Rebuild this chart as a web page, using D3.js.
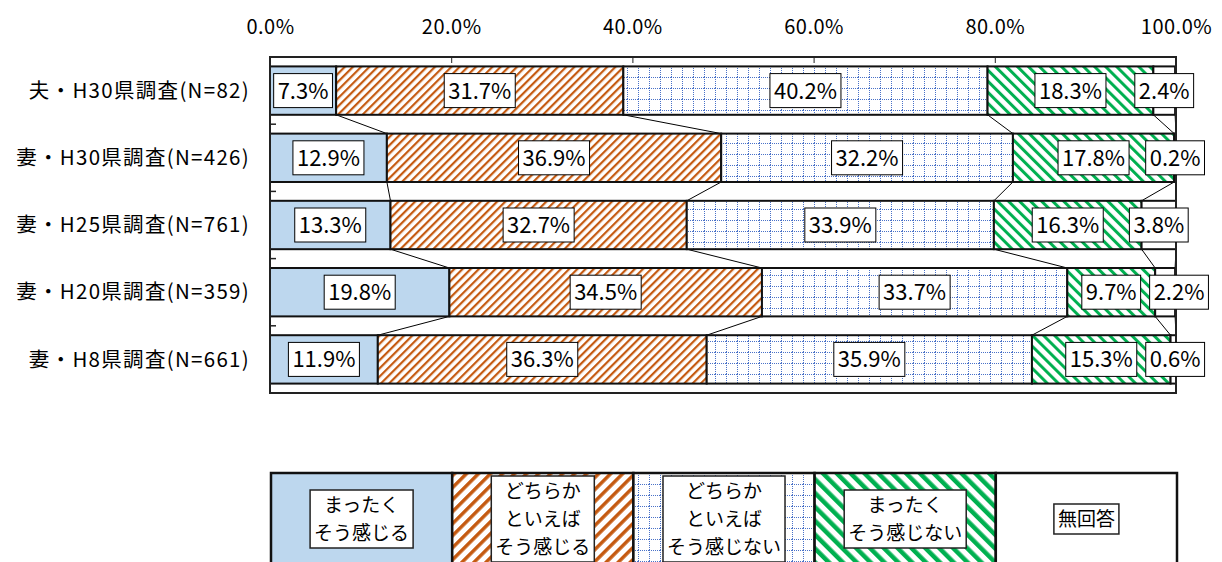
<!DOCTYPE html>
<html>
<head>
<meta charset="utf-8">
<script src="https://cdn.jsdelivr.net/npm/d3@7"></script>
<style>
  body { margin: 0; background: #fff; }
  text { font-family: "Noto Sans CJK JP", sans-serif; fill: #000; }
</style>
</head>
<body>
<div id="chart"></div>
<script>
// data
const categories = ["夫・H30県調査(N=82)", "妻・H30県調査(N=426)", "妻・H25県調査(N=761)", "妻・H20県調査(N=359)", "妻・H8県調査(N=661)"];
const seriesKeys = ["s1", "s2", "s3", "s4", "s5"];
const legendLabels = ["まったく\nそう感じる", "どちらか\nといえば\nそう感じる", "どちらか\nといえば\nそう感じない", "まったく\nそう感じない", "無回答"];
const veryMuch = [7.3, 12.9, 13.3, 19.8, 11.9];
const somewhat = [31.7, 36.9, 32.7, 34.5, 36.3];
const notMuch = [40.2, 32.2, 33.9, 33.7, 35.9];
const notAtAll = [18.3, 17.8, 16.3, 9.7, 15.3];
const noAnswer = [2.4, 0.2, 3.8, 2.2, 0.6];
const tickValues = [0, 20, 40, 60, 80, 100];

const rows = categories.map((c, i) => ({
  cat: c, s1: veryMuch[i], s2: somewhat[i], s3: notMuch[i], s4: notAtAll[i], s5: noAnswer[i]
}));

const W = 1222, H = 562;
const plotL = 270, plotR = 1176, plotT = 57, plotB = 393;

const svg = d3.select("#chart").append("svg")
  .attr("width", W)
  .attr("height", H);

svg.append("rect").attr("width", W).attr("height", H).attr("fill", "#fff");

// patterns
const defs = svg.append("defs");
function stripes(id, color, size, thick, angle) {
  const p = defs.append("pattern")
    .attr("id", id)
    .attr("patternUnits", "userSpaceOnUse")
    .attr("width", size).attr("height", size)
    .attr("patternTransform", `rotate(${angle})`);
  p.append("rect").attr("width", size).attr("height", size).attr("fill", "#fff");
  p.append("rect").attr("width", thick).attr("height", size).attr("fill", color);
}
stripes("orange", "#c55a11", 5.8, 2.2, 45);
stripes("green", "#00b050", 7.8, 3, -45);
stripes("orangeL", "#c55a11", 8.5, 3.5, 45);
stripes("greenL", "#00b050", 9.8, 4.5, -45);

// dotted blue grid
const grid = defs.append("pattern")
  .attr("id", "grid")
  .attr("patternUnits", "userSpaceOnUse")
  .attr("width", 11).attr("height", 11);
grid.append("rect").attr("width", 11).attr("height", 11).attr("fill", "#fff");
grid.append("line").attr("x1", 0.5).attr("x2", 0.5).attr("y1", 0).attr("y2", 11)
  .attr("stroke", "#4a72c8").attr("stroke-width", 1).attr("stroke-dasharray", "1 1");
grid.append("line").attr("x1", 0).attr("x2", 11).attr("y1", 0.5).attr("y2", 0.5)
  .attr("stroke", "#4a72c8").attr("stroke-width", 1).attr("stroke-dasharray", "1 1");

const fills = { s1: "#bdd7ee", s2: "url(#orange)", s3: "url(#grid)", s4: "url(#green)", s5: "#fff" };
const legendFills = { s1: "#bdd7ee", s2: "url(#orangeL)", s3: "url(#grid)", s4: "url(#greenL)", s5: "#fff" };

// scales
const x = d3.scaleLinear().domain([0, 100]).range([plotL, plotR]);
const y = d3.scaleBand().domain(categories).range([plotT, plotB]).paddingInner(0.28).paddingOuter(0.14);

const stacked = d3.stack().keys(seriesKeys)(rows);

// series lines between bars
const lines = svg.append("g");
stacked.forEach(layer => {
  for (let i = 0; i < rows.length - 1; i++) {
    lines.append("line")
      .attr("x1", x(layer[i][1])).attr("y1", y(categories[i]) + y.bandwidth())
      .attr("x2", x(layer[i + 1][1])).attr("y2", y(categories[i + 1]))
      .attr("stroke", "#000").attr("stroke-width", 1);
  }
});

// bars
svg.append("g")
  .selectAll("g")
  .data(stacked)
  .join("g")
    .attr("fill", d => fills[d.key])
  .selectAll("rect")
  .data(d => d)
  .join("rect")
    .attr("x", d => x(d[0]))
    .attr("y", d => y(d.data.cat))
    .attr("width", d => x(d[1]) - x(d[0]))
    .attr("height", y.bandwidth())
    .attr("stroke", "#111")
    .attr("stroke-width", 2);

// frame
svg.append("rect")
  .attr("x", plotL).attr("y", plotT)
  .attr("width", plotR - plotL).attr("height", plotB - plotT)
  .attr("fill", "none").attr("stroke", "#222").attr("stroke-width", 2);

// top axis
const ax = svg.append("g")
  .attr("transform", `translate(0,${plotT})`)
  .call(d3.axisTop(x).tickValues(tickValues).tickSize(-6).tickPadding(23).tickFormat(d => d.toFixed(1) + "%"));
ax.select(".domain").remove();
ax.selectAll(".tick line").attr("stroke", "#222");
ax.selectAll("text").attr("font-size", 20).attr("letter-spacing", 0.5)
  .attr("font-family", "Noto Sans CJK JP").attr("fill", "#000");

// category ticks at band boundaries
const bounds = categories.slice(0, -1).map(c => y(c) + y.bandwidth() + y.step() * y.paddingInner() / 2);
svg.append("g").selectAll("line")
  .data(bounds)
  .join("line")
    .attr("x1", plotL).attr("x2", plotL + 6)
    .attr("y1", d => d).attr("y2", d => d)
    .attr("stroke", "#222").attr("stroke-width", 1.5);

// category labels
svg.append("g").selectAll("text")
  .data(categories)
  .join("text")
    .attr("x", 250)
    .attr("y", d => y(d) + y.bandwidth() / 2)
    .attr("dy", "0.35em")
    .attr("text-anchor", "end")
    .attr("font-size", 20.5)
    .attr("letter-spacing", 1.3)
    .text(d => d);

// value labels with white boxes, pushed right if they would collide
const labels = svg.append("g");
rows.forEach((row, i) => {
  let lastRight = -Infinity;
  stacked.forEach(layer => {
    const d = layer[i];
    let cx = x((d[0] + d[1]) / 2);
    const cy = y(row.cat) + y.bandwidth() / 2;
    const g = labels.append("g");
    const r = g.append("rect");
    const t = g.append("text")
      .attr("y", cy).attr("dy", "0.36em")
      .attr("text-anchor", "middle")
      .attr("font-size", 22)
      .text((d[1] - d[0]).toFixed(1) + "%");
    const w = t.node().getComputedTextLength() + 8;
    if (cx - w / 2 < lastRight + 9) cx = lastRight + 9 + w / 2;
    lastRight = cx + w / 2;
    t.attr("x", cx);
    r.attr("x", cx - w / 2).attr("y", cy - 17)
      .attr("width", w).attr("height", 34)
      .attr("fill", "#fff").attr("stroke", "#000").attr("stroke-width", 1);
  });
});

// legend
const lx = d3.scaleBand().domain(seriesKeys).range([271, 1177]);
const legTop = 473, legCy = 519, lineH = 28;
const leg = svg.append("g");
leg.selectAll("rect")
  .data(seriesKeys)
  .join("rect")
    .attr("x", d => lx(d)).attr("y", legTop)
    .attr("width", lx.bandwidth()).attr("height", 120)
    .attr("fill", d => legendFills[d])
    .attr("stroke", "#111").attr("stroke-width", 2.5);

seriesKeys.forEach((k, i) => {
  const parts = legendLabels[i].split("\n");
  const cx = lx(k) + lx.bandwidth() / 2;
  const g = leg.append("g");
  const r = g.append("rect");
  const t = g.append("text").attr("text-anchor", "middle").attr("font-size", 19);
  parts.forEach((p, j) => {
    t.append("tspan")
      .attr("x", cx)
      .attr("y", legCy + (j - (parts.length - 1) / 2) * lineH)
      .attr("dy", "0.36em")
      .text(p);
  });
  const bb = t.node().getBBox();
  r.attr("x", bb.x - 4).attr("y", legCy - parts.length * lineH / 2 - 1)
    .attr("width", bb.width + 8).attr("height", parts.length * lineH + 2)
    .attr("fill", "#fff").attr("stroke", "#222").attr("stroke-width", 1.5);
});
</script>
</body>
</html>
